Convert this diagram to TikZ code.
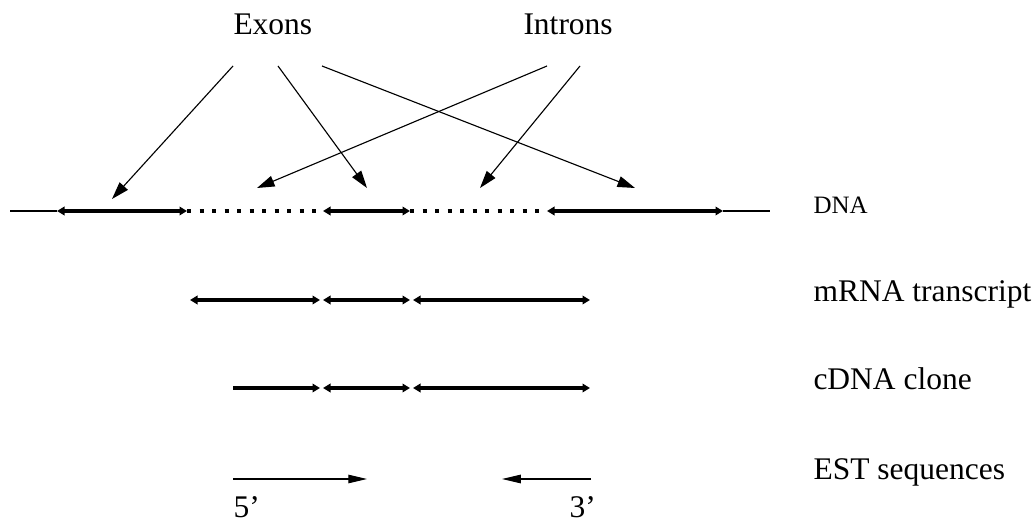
\documentclass[tikz,border=0pt]{standalone}
\usepackage{fontspec}
\setmainfont{Liberation Serif}
\usetikzlibrary{arrows.meta}

\begin{document}
\begin{tikzpicture}[x=0.4pt,y=-0.4pt,
  lbl/.style={font=\fontsize{12.6}{15}\selectfont,inner sep=0pt,anchor=base west},
  ptr/.style={-{Triangle[length=7pt,width=4.4pt]},line width=0.45pt},
  est/.style={-{Triangle[length=7.5pt,width=3.4pt]},line width=0.45pt},
  seg/.style={{Triangle[length=3pt,width=3.4pt]}-{Triangle[length=3pt,width=3.4pt]},line width=1.5pt},
  segr/.style={-{Triangle[length=3pt,width=3.4pt]},line width=1.5pt},
  dots/.style={line width=1.5pt,dash pattern=on 1.7pt off 3.3pt},
  thin/.style={line width=0.45pt}
]
\useasboundingbox (0,0) rectangle (1034,525);
% labels
\node[lbl] (exons) at (233,35) {Exons};
\node[lbl] (introns) at (523,35) {Introns};
\node[lbl,font=\fontsize{10}{12}\selectfont] (dna) at (813,214) {DNA};
\node[lbl] (mrna) at (813,302) {mRNA transcript};
\node[lbl] (cdna) at (813,390) {cDNA clone};
\node[lbl] (est) at (813,480) {EST sequences};
\node[lbl] (five) at (233,518) {5'};
\node[lbl] (three) at (569,518) {3'};
% DNA
\coordinate (d0) at (10,211);
\coordinate (d1) at (57,211);
\coordinate (d2) at (187,211);
\coordinate (d3) at (323,211);
\coordinate (d4) at (410,211);
\coordinate (d5) at (547,211);
\coordinate (d6) at (723,211);
\coordinate (d7) at (770,211);
\draw[thin] (d0) -- (d1);
\draw[seg] (d1) -- (d2);
\draw[dots] (d2) -- (d3);
\draw[seg] (d3) -- (d4);
\draw[dots] (d4) -- (d5);
\draw[seg] (d5) -- (d6);
\draw[thin] (d6) -- (d7);
% pointers from the labels
\coordinate (e1) at (233,66);
\coordinate (e2) at (278,66);
\coordinate (e3) at (322,66);
\coordinate (i1) at (547,66);
\coordinate (i2) at (580,66);
\coordinate (t1) at (112,199);
\coordinate (t2) at (367,188);
\coordinate (t3) at (635,188);
\coordinate (t4) at (257,188);
\coordinate (t5) at (480,188);
\draw[ptr] (e1) -- (t1);
\draw[ptr] (e2) -- (t2);
\draw[ptr] (e3) -- (t3);
\draw[ptr] (i1) -- (t4);
\draw[ptr] (i2) -- (t5);
% mRNA
\coordinate (m0) at (190,300);
\coordinate (m1) at (320,300);
\coordinate (m2) at (323,300);
\coordinate (m3) at (410,300);
\coordinate (m4) at (413,300);
\coordinate (m5) at (590,300);
\draw[seg] (m0) -- (m1);
\draw[seg] (m2) -- (m3);
\draw[seg] (m4) -- (m5);
% cDNA
\coordinate (c0) at (233,388);
\coordinate (c1) at (320,388);
\coordinate (c2) at (323,388);
\coordinate (c3) at (410,388);
\coordinate (c4) at (413,388);
\coordinate (c5) at (590,388);
\draw[segr] (c0) -- (c1);
\draw[seg] (c2) -- (c3);
\draw[seg] (c4) -- (c5);
% EST
\coordinate (s0) at (233,479);
\coordinate (s1) at (367,479);
\coordinate (s2) at (591,479);
\coordinate (s3) at (502,479);
\draw[est] (s0) -- (s1);
\draw[est] (s2) -- (s3);
\end{tikzpicture}
\end{document}
